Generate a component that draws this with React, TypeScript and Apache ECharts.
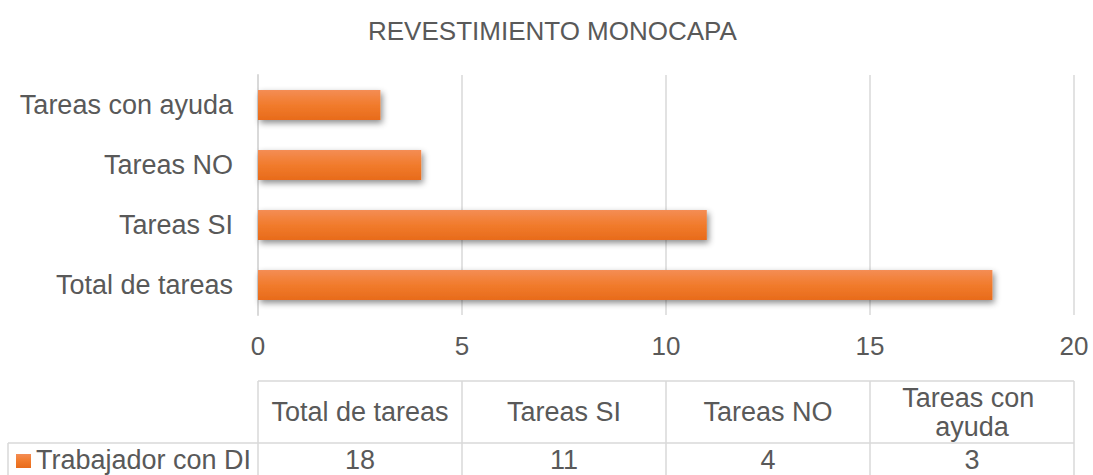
import React, { useEffect, useRef } from "react";
import * as echarts from "echarts";

const chartTitle = "REVESTIMIENTO MONOCAPA";
const categories = ["Total de tareas", "Tareas SI", "Tareas NO", "Tareas con ayuda"];
const seriesName = "Trabajador con DI";
const values = [18, 11, 4, 3];
const xMin = 0;
const xMax = 20;
const xInterval = 5;

const TEXT = "#595959";
const LINE = "#d9d9d9";
const FONT = "'Liberation Sans', Arial, sans-serif";

export default function App() {
  const ref = useRef<HTMLDivElement>(null);
  useEffect(() => {
    document.body.style.margin = "0";
    if (!ref.current) return;
    const chart = echarts.init(ref.current, null, { renderer: "svg" });
    const barColor = new echarts.graphic.LinearGradient(0, 0, 0, 1, [
      { offset: 0, color: "#f48d55" },
      { offset: 0.5, color: "#f17b2c" },
      { offset: 1, color: "#e86b1b" },
    ]);
    chart.setOption({
      animation: false,
      title: {
        text: chartTitle,
        left: 363,
        top: 13,
        textStyle: { color: TEXT, fontFamily: FONT, fontSize: 26, fontWeight: "normal" },
      },
      grid: { left: 258, right: 19, top: 75, bottom: 160 },
      xAxis: {
        type: "value",
        min: xMin,
        max: xMax,
        interval: xInterval,
        axisLine: { show: false },
        axisTick: { show: false },
        splitLine: { lineStyle: { color: LINE, width: 1.5 } },
        axisLabel: { color: TEXT, fontFamily: FONT, fontSize: 26, margin: 18 },
      },
      yAxis: {
        type: "category",
        data: categories,
        axisLine: { show: true, lineStyle: { color: LINE, width: 2 } },
        axisTick: { show: false },
        axisLabel: { color: TEXT, fontFamily: FONT, fontSize: 27, margin: 25 },
      },
      series: [
        {
          name: seriesName,
          type: "bar",
          data: values,
          barWidth: "50%",
          itemStyle: {
            color: barColor,
            shadowColor: "rgba(0,0,0,0.45)",
            shadowBlur: 6,
            shadowOffsetX: 2,
            shadowOffsetY: 3,
          },
        },
      ],
    });

    // Data table below the chart, aligned with the plot area
    const x0 = chart.convertToPixel({ xAxisIndex: 0 }, xMin) as number;
    const x1 = chart.convertToPixel({ xAxisIndex: 0 }, xMax) as number;
    const colW = (x1 - x0) / categories.length;
    const yTop = 381;
    const yMid = 443;
    const yBot = 477;
    const legendLeft = 8;
    const elements: any[] = [];
    const ls = { stroke: LINE, lineWidth: 1.5 };
    elements.push({ type: "line", shape: { x1: x0, y1: yTop, x2: x1, y2: yTop }, style: ls });
    elements.push({ type: "line", shape: { x1: legendLeft, y1: yMid, x2: x1, y2: yMid }, style: ls });
    elements.push({ type: "line", shape: { x1: legendLeft, y1: yBot, x2: x1, y2: yBot }, style: ls });
    elements.push({ type: "line", shape: { x1: legendLeft, y1: yMid, x2: legendLeft, y2: yBot }, style: ls });
    for (let i = 0; i <= categories.length; i++) {
      const x = x0 + colW * i;
      elements.push({ type: "line", shape: { x1: x, y1: yTop, x2: x, y2: yBot }, style: ls });
    }
    categories.forEach((c, i) => {
      const cx = x0 + colW * (i + 0.5);
      elements.push({
        type: "text",
        x: cx,
        y: (yTop + yMid) / 2,
        style: {
          text: c,
          width: colW - 16,
          overflow: "break",
          lineHeight: 29,
          align: "center",
          verticalAlign: "middle",
          fill: TEXT,
          font: `27px ${FONT}`,
        },
      });
      elements.push({
        type: "text",
        x: cx,
        y: (yMid + 477) / 2,
        style: {
          text: String(values[i]),
          align: "center",
          verticalAlign: "middle",
          fill: TEXT,
          font: `27px ${FONT}`,
        },
      });
    });
    elements.push({
      type: "rect",
      shape: { x: 16, y: 454, width: 15, height: 14 },
      style: { fill: barColor },
    });
    elements.push({
      type: "text",
      x: 36,
      y: (yMid + 477) / 2,
      style: {
        text: seriesName,
        align: "left",
        verticalAlign: "middle",
        fill: TEXT,
        font: `27px ${FONT}`,
      },
    });
    chart.setOption({ graphic: { elements } });
    return () => chart.dispose();
  }, []);
  return <div ref={ref} style={{ width: 1093, height: 475 }} />;
}
